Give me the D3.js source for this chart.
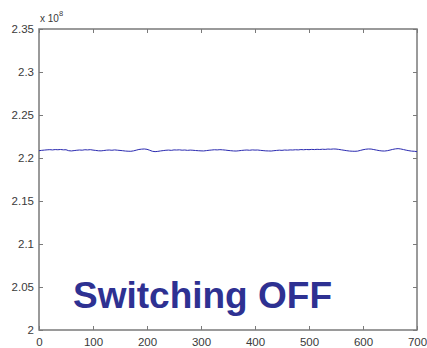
<!DOCTYPE html>
<html><head><meta charset="utf-8">
<script src="https://cdn.jsdelivr.net/npm/d3@7"></script>
<style>
html,body{margin:0;padding:0;background:#fff;}
svg{display:block;}
text{font-family:"Liberation Sans",Arial,sans-serif;}
</style></head>
<body>
<svg id="c" width="427" height="348"></svg>
<script>
// time index (0..700 step 5)
const xValues = d3.range(0, 701, 5);
// signal values (x 1e8)
const yValues = [
2.2085,2.2089,2.2092,2.2095,2.2097,2.2094,2.2098,2.2096,2.2099,2.2095,
2.2096,2.2085,2.2082,2.2086,2.2090,2.2093,2.2091,2.2096,2.2094,2.2097,
2.2092,2.2088,2.2084,2.2083,2.2087,2.2091,2.2093,2.2090,2.2094,2.2091,
2.2088,2.2085,2.2081,2.2079,2.2078,2.2083,2.2091,2.2099,2.2103,2.2105,
2.2101,2.2090,2.2078,2.2074,2.2077,2.2082,2.2086,2.2090,2.2092,2.2089,
2.2094,2.2093,2.2095,2.2091,2.2093,2.2089,2.2092,2.2090,2.2087,2.2085,
2.2083,2.2082,2.2086,2.2090,2.2093,2.2096,2.2094,2.2097,2.2095,2.2092,
2.2088,2.2085,2.2082,2.2081,2.2084,2.2088,2.2091,2.2093,2.2090,2.2094,
2.2092,2.2093,2.2089,2.2086,2.2083,2.2082,2.2081,2.2085,2.2088,2.2091,
2.2089,2.2093,2.2091,2.2094,2.2093,2.2096,2.2094,2.2098,2.2096,2.2099,
2.2097,2.2100,2.2098,2.2101,2.2099,2.2102,2.2100,2.2104,2.2102,2.2105,
2.2104,2.2100,2.2095,2.2090,2.2085,2.2081,2.2079,2.2078,2.2080,2.2088,
2.2096,2.2102,2.2105,2.2104,2.2098,2.2092,2.2086,2.2082,2.2081,2.2085,
2.2092,2.2100,2.2106,2.2109,2.2105,2.2098,2.2091,2.2085,2.2080,2.2078,
2.2074
];
const xTicks = [0,100,200,300,400,500,600,700];
const yTicks = [2,2.05,2.1,2.15,2.2,2.25,2.3,2.35];
const yTickLabels = ["2","2.05","2.1","2.15","2.2","2.25","2.3","2.35"];
const annotation = "Switching OFF";
const exponentLabel = "8";

const svg = d3.select("#c");
const L = 39, R = 417, T = 29, B = 330;
const x = d3.scaleLinear().domain([0,700]).range([L,R]);
const y = d3.scaleLinear().domain([2,2.35]).range([B,T]);
const axisColor = "#7a7a7a";
const textColor = "#3a3a3a";

function styleAxis(g){
  g.select(".domain").remove();
  g.selectAll(".tick line").attr("stroke", axisColor).attr("stroke-width",1);
  g.selectAll("text").attr("fill", textColor).style("font-size","11.5px");
}

// bottom
svg.append("g").attr("transform",`translate(0,${B})`)
  .call(d3.axisBottom(x).tickValues(xTicks).tickSizeInner(-4).tickSizeOuter(0).tickPadding(8))
  .call(styleAxis);
// top
svg.append("g").attr("transform",`translate(0,${T})`)
  .call(d3.axisTop(x).tickValues(xTicks).tickSizeInner(-4).tickSizeOuter(0).tickFormat(""))
  .call(styleAxis);
// left
svg.append("g").attr("transform",`translate(${L},0)`)
  .call(d3.axisLeft(y).tickValues(yTicks).tickSizeInner(-4).tickSizeOuter(0).tickPadding(5)
    .tickFormat((d,i)=>yTickLabels[yTicks.indexOf(d)]))
  .call(styleAxis);
// right
svg.append("g").attr("transform",`translate(${R},0)`)
  .call(d3.axisRight(y).tickValues(yTicks).tickSizeInner(-4).tickSizeOuter(0).tickFormat(""))
  .call(styleAxis);

// box
svg.append("rect").attr("x",L).attr("y",T).attr("width",R-L).attr("height",B-T)
  .attr("fill","none").attr("stroke",axisColor).attr("stroke-width",1.5);

// line
const pts = xValues.map((d,i)=>[d,yValues[i]]);
svg.append("path").datum(pts)
  .attr("fill","none").attr("stroke","#2a2ab0").attr("stroke-width",1)
  .attr("d", d3.line().x(d=>x(d[0])).y(d=>y(d[1])));

// exponent label
const ex = svg.append("text").attr("x",40).attr("y",22).attr("fill",textColor).style("font-size","10px");
ex.append("tspan").text("x 10");
ex.append("tspan").attr("dy",-6).style("font-size","7.5px").text(exponentLabel);

// annotation
svg.append("text").attr("x",73).attr("y",308).attr("fill","#2e3192")
  .style("font-size","37px").style("font-weight","bold").text(annotation);
</script>
</body></html>
